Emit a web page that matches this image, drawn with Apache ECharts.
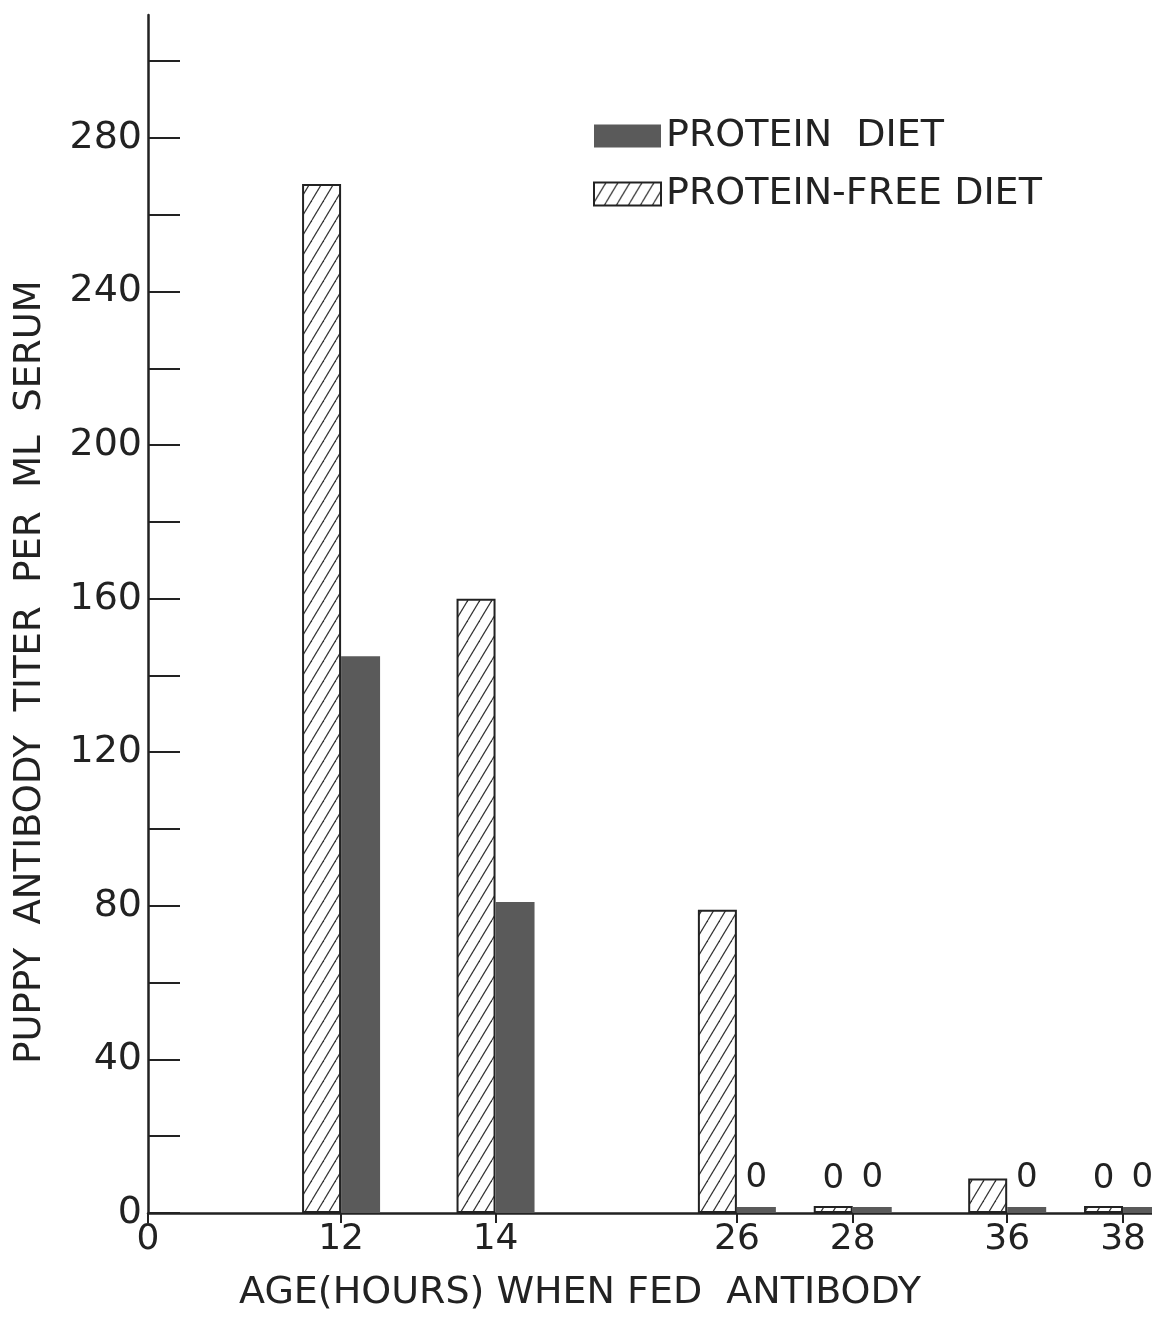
<!DOCTYPE html>
<html>
<head>
<meta charset="utf-8">
<script src="https://cdn.jsdelivr.net/npm/echarts@6/dist/echarts.min.js"></script>
<style>
html,body{margin:0;padding:0;background:#fff;}
#chart{width:1152px;height:1320px;}
</style>
</head>
<body>
<div id="chart"></div>
<script>
// ---- data ----
const ages = ['0', '12', '14', '26', '28', '36', '38'];
const proteinFreeDiet = [null, 268, 160, 79, 0, 9, 0];
const proteinDiet = [null, 145, 81, 0, 0, 0, 0];
const yTickValues = [0, 20, 40, 60, 80, 100, 120, 140, 160, 180, 200, 220, 240, 260, 280, 300];
const yLabelValues = [0, 40, 80, 120, 160, 200, 240, 280];

// ---- layout of the hand-drawn, non-uniform age axis (slot index of each age) ----
const ageSlot = [0, 20, 36, 61, 73, 89, 101];
const slotCount = 105;

const categories = [];
const pfData = [];
const pData = [];
for (let i = 0; i < slotCount; i++) {
  const k = ageSlot.indexOf(i);
  if (k >= 0) {
    categories.push(ages[k]);
    pfData.push(proteinFreeDiet[k]);
    pData.push(proteinDiet[k]);
  } else {
    categories.push('_' + i);
    pfData.push(null);
    pData.push(null);
  }
}
const isAge = (v) => !String(v).startsWith('_');

// hatch pattern
const tile = document.createElement('canvas');
tile.width = 12; tile.height = 20;
const g = tile.getContext('2d');
g.fillStyle = '#ffffff';
g.fillRect(0, 0, 12, 20);
g.strokeStyle = '#333333';
g.lineWidth = 1.2;
[[0, 20, 12, 0], [-12, 20, 0, 0], [12, 20, 24, 0]].forEach(([a, b, c, d]) => {
  g.beginPath(); g.moveTo(a, b); g.lineTo(c, d); g.stroke();
});

const FONT = 'DejaVu Sans';
const INK = '#222222';

const chart = echarts.init(document.getElementById('chart'));
chart.setOption({
  backgroundColor: '#ffffff',
  animation: false,
  textStyle: { fontFamily: FONT, color: INK },
  grid: { left: 148, top: 15, bottom: 107, right: -5, containLabel: false },
  legend: {
    orient: 'vertical',
    left: 593,
    top: 117,
    padding: 0,
    icon: 'rect',
    itemWidth: 67,
    itemHeight: 23,
    itemGap: 20,
    data: ['PROTEIN DIET', 'PROTEIN-FREE DIET'],
    formatter: (n) => n.replace('PROTEIN DIET', 'PROTEIN  DIET'),
    textStyle: { fontFamily: FONT, fontSize: 38, color: INK, lineHeight: 38 }
  },
  xAxis: {
    type: 'category',
    data: categories,
    boundaryGap: false,
    name: 'AGE(HOURS) WHEN FED  ANTIBODY',
    nameLocation: 'middle',
    nameGap: 61,
    nameTextStyle: { fontFamily: FONT, fontSize: 38, color: INK, padding: [0, 140, 0, 0] },
    axisLine: { show: true, lineStyle: { color: INK, width: 2.5 } },
    axisTick: { show: true, interval: (i, v) => isAge(v), length: 10, lineStyle: { color: INK, width: 2 } },
    axisLabel: {
      show: true,
      interval: (i, v) => isAge(v),
      formatter: (v) => (isAge(v) ? v : ''),
      fontFamily: FONT, fontSize: 36, color: INK, margin: 9
    },
    splitLine: { show: false }
  },
  yAxis: {
    type: 'value',
    min: 0,
    max: 312,
    interval: 20,
    name: 'PUPPY  ANTIBODY  TITER  PER  ML  SERUM',
    nameLocation: 'middle',
    nameGap: 99,
    nameRotate: 90,
    nameTextStyle: { fontFamily: FONT, fontSize: 37, color: INK, padding: [0, 116, 0, 0] },
    axisLine: { show: true, lineStyle: { color: INK, width: 2.5 } },
    axisTick: { show: true, inside: true, length: 32, customValues: yTickValues, lineStyle: { color: INK, width: 2 } },
    axisLabel: { show: true, customValues: yLabelValues, fontFamily: FONT, fontSize: 38, color: INK, margin: 6 },
    splitLine: { show: false }
  },
  series: [
    {
      name: 'PROTEIN-FREE DIET',
      type: 'bar',
      data: pfData,
      barWidth: 39,
      barGap: '0%',
      barMinHeight: 7,
      itemStyle: { color: { image: tile, repeat: 'repeat' }, borderColor: INK, borderWidth: 2 },
      label: {
        show: true, position: 'top', distance: 10,
        formatter: (p) => (p.value === 0 ? '0' : ''),
        fontFamily: FONT, fontSize: 34, color: INK
      }
    },
    {
      name: 'PROTEIN DIET',
      type: 'bar',
      data: pData,
      barWidth: 39,
      barGap: '0%',
      barMinHeight: 6,
      itemStyle: { color: '#5a5a5a' },
      label: {
        show: true, position: 'top', distance: 12,
        formatter: (p) => (p.value === 0 ? '0' : ''),
        fontFamily: FONT, fontSize: 34, color: INK
      }
    }
  ]
});
</script>
</body>
</html>
